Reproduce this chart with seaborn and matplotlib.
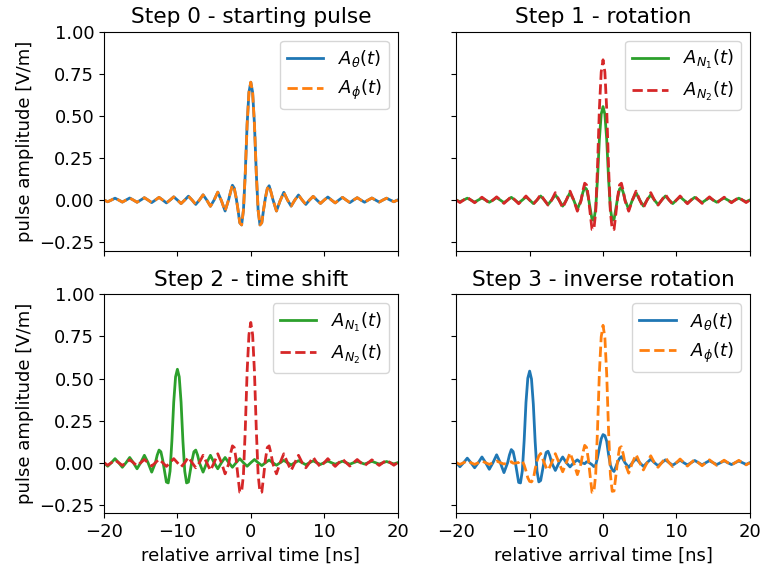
import numpy as np
import seaborn as sns
import matplotlib.pyplot as plt

# Bigger base font (titles come out at 'large' = 1.2x)
plt.rcParams['font.size'] = 13

# Time grids [ns]: coarse sampling in the tails, finer sampling around the main lobes
t_rel = np.concatenate([np.arange(-20, -3, 0.5), np.arange(-3, 3.01, 0.25), np.arange(3.5, 20.01, 0.5)])
t_rel_long = np.concatenate([t_rel, np.arange(20.5, 30.01, 0.5)])
t_step3 = np.concatenate([np.arange(-20, -13, 0.5), np.arange(-13, -6.99, 0.25), np.arange(-6.5, -3, 0.5),
                          np.arange(-3, 3.01, 0.25), np.arange(3.5, 20.01, 0.5)])

# Step 2 time shift applied to A_N1 [ns]
time_shift = -10.0

# Step 0 - starting pulse (A_theta and A_phi lie on top of each other)
a_start = [
    0.0, -0.010, 0.0, 0.011, 0.0, -0.012, 0.0, 0.012, 0.0, -0.013, 0.0, 0.014, 0.0, -0.015, 0.0, 0.016, 0.0,
    -0.017, 0.0, 0.019, 0.0, -0.021, 0.0, 0.023, 0.0, -0.026, 0.0, 0.031, 0.0, -0.037, 0.0, 0.047, -0.004, -0.065,
    0.005, 0.050, 0.088, 0.070, 0.015, -0.055, -0.135, -0.148, -0.060, 0.160, 0.450, 0.640, 0.700,
    0.640, 0.450, 0.160, -0.060, -0.148, -0.135, -0.055, 0.015, 0.068, 0.085, 0.048, 0.005,
    -0.065, -0.004, 0.046, 0.0, -0.036, 0.0, 0.030, 0.0, -0.026, 0.0, 0.022, 0.0, -0.020, 0.0, 0.018, 0.0, -0.017,
    0.0, 0.016, 0.0, -0.015, 0.0, 0.014, 0.0, -0.013, 0.0, 0.012, 0.0, -0.012, 0.0, 0.011, 0.0, -0.010, 0.0,
]

# Step 1 - rotated components
a_n1 = [
    0.0, -0.010, 0.0, 0.011, 0.0, -0.012, 0.0, 0.012, 0.0, -0.013, 0.0, 0.014, 0.0, -0.015, 0.0, 0.016, 0.0,
    -0.017, 0.0, 0.019, 0.0, -0.021, 0.0, 0.024, 0.0, -0.027, 0.0, 0.031, 0.0, -0.036, 0.0, 0.044, 0.0, -0.056,
    0.0, 0.045, 0.075, 0.065, 0.015, -0.050, -0.115, -0.120, -0.050, 0.130, 0.360, 0.510, 0.555,
    0.510, 0.360, 0.130, -0.050, -0.120, -0.115, -0.050, 0.015, 0.065, 0.075, 0.045, 0.0,
    -0.056, 0.0, 0.044, 0.0, -0.036, 0.0, 0.031, 0.0, -0.027, 0.0, 0.024, 0.0, -0.021, 0.0, 0.019, 0.0, -0.017,
    0.0, 0.016, 0.0, -0.015, 0.0, 0.014, 0.0, -0.013, 0.0, 0.012, 0.0, -0.012, 0.0, 0.011, 0.0, -0.010, 0.0,
    0.010, 0.0, -0.009, 0.0, 0.009, 0.0, -0.009, 0.0, 0.008, 0.0, -0.008, 0.0, 0.008, 0.0, -0.008, 0.0,
    0.007, 0.0, -0.007, 0.0,
]
a_n2 = [
    0.0, -0.015, 0.0, 0.016, 0.0, -0.016, 0.0, 0.017, 0.0, -0.018, 0.0, 0.019, 0.0, -0.020, 0.0, 0.021, 0.0,
    -0.022, 0.0, 0.024, 0.0, -0.025, 0.0, 0.033, 0.0, -0.030, 0.0, 0.044, 0.0, -0.046, 0.0, 0.053, 0.0, -0.066,
    -0.005, 0.055, 0.100, 0.090, 0.020, -0.080, -0.175, -0.175, -0.070, 0.200, 0.540, 0.760, 0.833,
    0.760, 0.540, 0.200, -0.070, -0.175, -0.175, -0.080, 0.020, 0.090, 0.100, 0.055, -0.005,
    -0.066, 0.0, 0.053, 0.0, -0.046, 0.0, 0.044, 0.0, -0.030, 0.0, 0.033, 0.0, -0.025, 0.0, 0.024, 0.0, -0.022,
    0.0, 0.021, 0.0, -0.020, 0.0, 0.019, 0.0, -0.018, 0.0, 0.017, 0.0, -0.016, 0.0, 0.016, 0.0, -0.015, 0.0,
]

# Step 3 - inverse rotation
a_theta3 = [
    0.0, -0.024, 0.0, 0.027, 0.0, -0.030, 0.0, 0.034, 0.0, -0.039, 0.0, 0.047, 0.0, -0.059,
    0.0, 0.046, 0.078, 0.066, 0.015, -0.051, -0.117, -0.120, -0.049, 0.130, 0.358, 0.502, 0.544,
    0.497, 0.348, 0.125, -0.049, -0.114, -0.106, -0.046, 0.015, 0.061, 0.068, 0.041, 0.0,
    -0.046, 0.0, 0.034, 0.0, -0.025, 0.0, 0.017,
    -0.001, -0.002, -0.006, 0.005, 0.004, -0.004, -0.012, -0.023, -0.014, 0.030, 0.087, 0.142, 0.167,
    0.161, 0.127, 0.049, -0.014, -0.043, -0.052, -0.024, 0.004, 0.026, 0.036, 0.019, -0.001,
    -0.028, 0.0, 0.024, 0.0, -0.022, 0.0, 0.021, 0.0, -0.018, 0.0, 0.017, 0.0, -0.015, 0.0, 0.015, 0.0, -0.013,
    0.0, 0.013, 0.0, -0.013, 0.0, 0.012, 0.0, -0.011, 0.0, 0.011, 0.0, -0.011, 0.0, 0.010, 0.0, -0.010, 0.0,
]
a_phi3 = [
    0.0, -0.010, 0.0, 0.011, 0.0, -0.010, 0.0, 0.010, 0.0, -0.010, 0.0, 0.010, 0.0, -0.008,
    0.0, 0.001, 0.006, -0.003, -0.003, -0.001, 0.001, 0.013, 0.010, -0.014, -0.049, -0.090, -0.111,
    -0.114, -0.097, -0.038, 0.010, 0.040, 0.055, 0.026, -0.003, -0.028, -0.044, -0.024, 0.0,
    0.054, 0.0, -0.054, 0.0, 0.059, 0.0, -0.071,
    -0.005, 0.057, 0.103, 0.091, 0.020, -0.081, -0.176, -0.174, -0.069, 0.198, 0.533, 0.747, 0.816,
    0.743, 0.525, 0.194, -0.069, -0.170, -0.168, -0.077, 0.020, 0.087, 0.095, 0.052, -0.005,
    -0.062, 0.0, 0.049, 0.0, -0.043, 0.0, 0.041, 0.0, -0.027, 0.0, 0.030, 0.0, -0.023, 0.0, 0.022, 0.0, -0.020,
    0.0, 0.019, 0.0, -0.018, 0.0, 0.017, 0.0, -0.016, 0.0, 0.015, 0.0, -0.014, 0.0, 0.014, 0.0, -0.013, 0.0,
]

titles = ['Step 0 - starting pulse', 'Step 1 - rotation', 'Step 2 - time shift', 'Step 3 - inverse rotation']

fig, axes = plt.subplots(2, 2, figsize=(7.62, 5.76), dpi=100, sharex=True, sharey=True)
lw = 2

# Step 0
ax = axes[0, 0]
sns.lineplot(x=t_rel, y=a_start, ax=ax, color='C0', linewidth=lw, label=r'$A_\theta(t)$')
sns.lineplot(x=t_rel, y=a_start, ax=ax, color='C1', linewidth=lw, linestyle='--', label=r'$A_\phi(t)$')

# Step 1
ax = axes[0, 1]
sns.lineplot(x=t_rel_long, y=a_n1, ax=ax, color='C2', linewidth=lw, label=r'$A_{N_1}(t)$')
sns.lineplot(x=t_rel, y=a_n2, ax=ax, color='C3', linewidth=lw, linestyle='--', label=r'$A_{N_2}(t)$')

# Step 2
ax = axes[1, 0]
sns.lineplot(x=t_rel_long + time_shift, y=a_n1, ax=ax, color='C2', linewidth=lw, label=r'$A_{N_1}(t)$')
sns.lineplot(x=t_rel, y=a_n2, ax=ax, color='C3', linewidth=lw, linestyle='--', label=r'$A_{N_2}(t)$')

# Step 3
ax = axes[1, 1]
sns.lineplot(x=t_step3, y=a_theta3, ax=ax, color='C0', linewidth=lw, label=r'$A_\theta(t)$')
sns.lineplot(x=t_step3, y=a_phi3, ax=ax, color='C1', linewidth=lw, linestyle='--', label=r'$A_\phi(t)$')

for ax, title in zip(axes.flat, titles):
    ax.set_title(title)
    ax.set_xlim(-20, 20)
    ax.set_ylim(-0.3, 1.0)
    ax.set_xlabel('')
    ax.set_ylabel('')
    ax.legend(loc='upper right')

axes[0, 0].set_yticks([-0.25, 0.0, 0.25, 0.5, 0.75, 1.0])

for ax in axes[:, 0]:
    ax.set_ylabel('pulse amplitude [V/m]')
for ax in axes[1, :]:
    ax.set_xlabel('relative arrival time [ns]')

plt.subplots_adjust(left=0.1365, right=0.984, top=0.945, bottom=0.109, wspace=0.2, hspace=0.2)
plt.savefig('out.png', dpi=100)
